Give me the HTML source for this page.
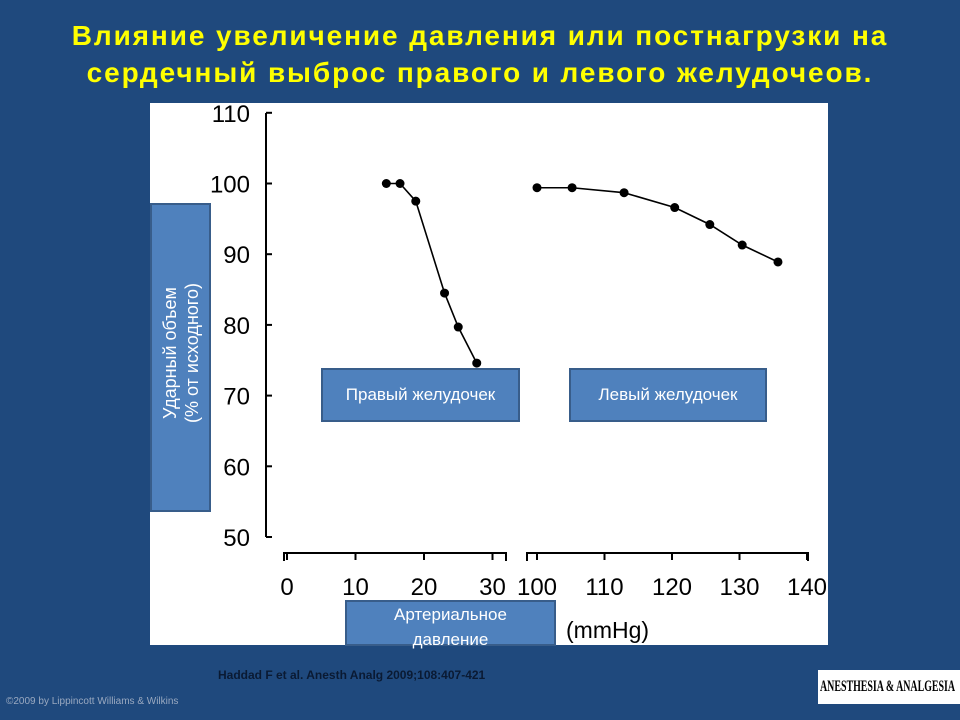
<!DOCTYPE html>
<html><head><meta charset="utf-8"><style>
body{margin:0;width:960px;height:720px;background:#1f497d;overflow:hidden;font-family:"Liberation Sans",sans-serif;position:relative}
.t{position:absolute;left:0;width:960px;text-align:center;color:#ffff00;font-weight:bold;font-size:28px;letter-spacing:1.9px;line-height:37px;top:17px;white-space:nowrap}
.box{position:absolute;background:#4f81bd;border:2px solid #385d8a;box-sizing:border-box;color:#fff;display:flex;align-items:center;justify-content:center;text-align:center;font-size:17px}
</style></head><body>
<div class="t">Влияние увеличение давления или постнагрузки на<br>сердечный выброс правого и левого желудочеов.</div>
<svg width="960" height="720" style="position:absolute;left:0;top:0">
<rect x="150" y="103" width="678" height="542" fill="#fff"/>
<g id="g"></g>
</svg>
<div class="box" style="left:150px;top:203px;width:61px;height:309px"><div style="transform:rotate(-90deg);white-space:nowrap;line-height:22px;font-size:18px;margin-top:-10px">Ударный объем<br>(% от исходного)</div></div>
<div class="box" style="left:321px;top:368px;width:199px;height:54px">Правый желудочек</div>
<div class="box" style="left:569px;top:368px;width:198px;height:54px">Левый желудочек</div>
<div class="box" style="left:345px;top:600px;width:211px;height:46px;line-height:25px;align-items:flex-start;font-size:17px">Артериальное<br>давление</div>
<div style="position:absolute;left:566px;top:617px;font-size:23px;color:#000">(mmHg)</div>
<div style="position:absolute;left:218px;top:668px;font-size:12px;font-weight:bold;color:#0a1a33">Haddad F et al. Anesth Analg 2009;108:407-421</div>
<div style="position:absolute;left:6px;top:696px;font-size:10px;color:#9aa9c0">©2009 by Lippincott Williams &amp; Wilkins</div>
<div style="position:absolute;left:818px;top:670px;width:142px;height:34px;background:#fff;overflow:hidden"><span style="display:inline-block;white-space:nowrap;font-family:'Liberation Serif',serif;font-size:16px;font-weight:bold;line-height:34px;color:#000;transform:scaleX(0.62);transform-origin:0 50%;margin-left:2px">ANESTHESIA &amp; ANALGESIA</span></div>
<script>
const yTicks=[50,60,70,80,90,100,110];
const rvTicks=[0,10,20,30];
const lvTicks=[100,110,120,130,140];
const rvX=[14.5,16.5,18.8,23.0,25.0,27.7];
const rvY=[100,100,97.5,84.5,79.7,74.6];
const lvX=[100,105.2,112.9,120.4,125.6,130.4,135.7];
const lvY=[99.4,99.4,98.7,96.6,94.2,91.3,88.9];
const NS='http://www.w3.org/2000/svg',g=document.getElementById('g');
const ys=v=>537-(v-50)*7.07;
const xr=v=>287+v*6.85;
const xl=v=>537+(v-100)*6.75;
function mk(t,a){const e=document.createElementNS(NS,t);for(const k in a)e.setAttribute(k,a[k]);g.appendChild(e);return e;}
let e=mk('line',{x1:266,y1:113,x2:266,y2:537,stroke:'#000','stroke-width':2});


yTicks.forEach(v=>{mk('line',{x1:266,x2:272,y1:ys(v),y2:ys(v),stroke:'#000','stroke-width':2});
const t=mk('text',{x:250,y:ys(v)+9,'text-anchor':'end','font-size':24,fill:'#000'});t.textContent=v;

});
function xaxis(x0,x1,ticks,f,name){const a=mk('path',{d:`M${x0} 561V553H${x1}V561`,fill:'none',stroke:'#000','stroke-width':2});


ticks.forEach(v=>{mk('line',{x1:f(v),x2:f(v),y1:553,y2:560,stroke:'#000','stroke-width':2});
const t=mk('text',{x:f(v),y:595,'text-anchor':'middle','font-size':24,fill:'#000'});t.textContent=v;

});}
xaxis(284,506,rvTicks,xr,'rv-x-axis');
xaxis(527,808,lvTicks,xl,'lv-x-axis');
function series(X,Y,f,name){const p=mk('polyline',{points:X.map((x,i)=>f(x)+','+ys(Y[i])).join(' '),fill:'none',stroke:'#000','stroke-width':1.6});


X.forEach((x,i)=>{const c=mk('circle',{cx:f(x),cy:ys(Y[i]),r:4.5,fill:'#000'});

});}
series(rvX,rvY,xr,'rv');
series(lvX,lvY,xl,'lv');
</script>
</body></html>
